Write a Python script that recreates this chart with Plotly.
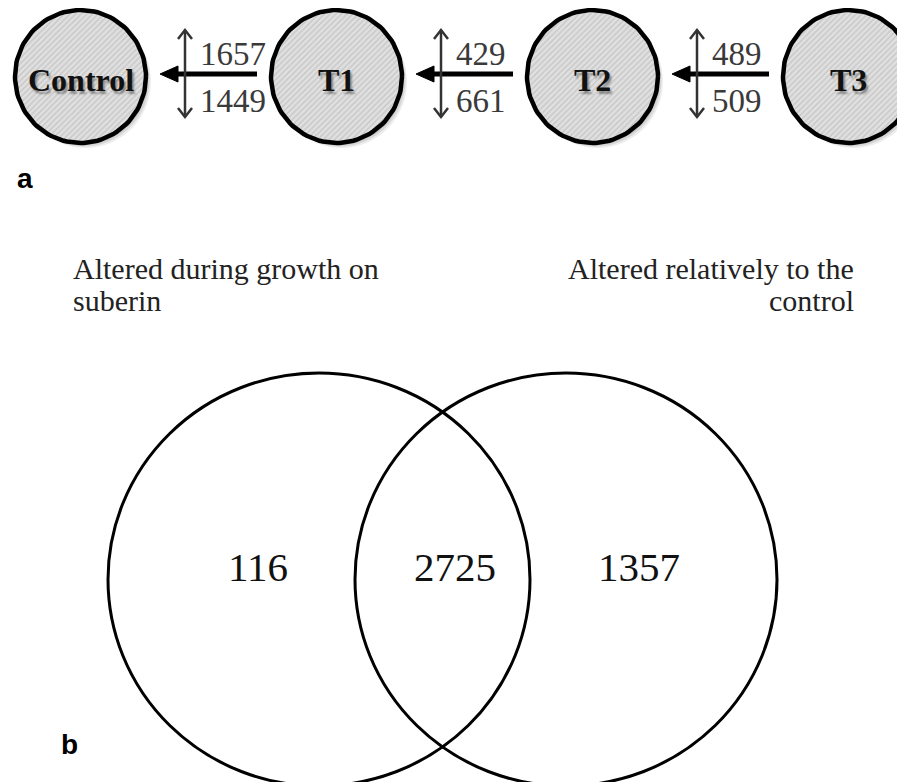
import numpy as np
import plotly.graph_objects as go

# ---------------- data ----------------
nodes = ["Control", "T1", "T2", "T3"]
up_counts = [1657, 429, 489]
down_counts = [1449, 661, 509]

venn_labels_left = ["Altered during growth on", "suberin"]
venn_labels_right = ["Altered relatively to the", "control"]
venn_counts = [116, 2725, 1357]  # left only, both, right only

panel_labels = ["a", "b"]

# ---------------- layout constants ----------------
W, H = 905, 782
PAD = 8  # default body margin of the html page
node_x0 = 80.5
node_step = 256
node_cy = 76.5
node_rx, node_ry = 65.5, 66.5
arrow_y = 74

fig = go.Figure()
shapes = []
annotations = []

serif = "Liberation Serif, Times New Roman, serif"
sans = "Liberation Sans, Arial, sans-serif"

theta = np.linspace(0, 2 * np.pi, 121)
for i, name in enumerate(nodes):
    cx = node_x0 + node_step * i
    # soft shadow
    for off, alpha in [(5, 0.07), (3.5, 0.09), (2, 0.10)]:
        shapes.append(dict(type="circle", xref="x", yref="y",
                           x0=cx - node_rx + off, x1=cx + node_rx + off,
                           y0=node_cy - node_ry + off, y1=node_cy + node_ry + off,
                           fillcolor=f"rgba(0,0,0,{alpha})", line=dict(width=0),
                           layer="below"))
    fig.add_trace(go.Scatter(
        x=cx + node_rx * np.cos(theta), y=node_cy + node_ry * np.sin(theta),
        mode="lines", fill="toself",
        fillcolor="#dcdcdc",
        fillpattern=dict(shape="/", fgcolor="#c6c6c6", bgcolor="#e0e0e0",
                         size=4, solidity=0.35, fillmode="replace"),
        line=dict(color="black", width=4.5),
        hoverinfo="skip", showlegend=False))
    annotations.append(dict(x=cx, y=node_cy + 3, xref="x", yref="y",
                            text=f"<b>{name}</b>", showarrow=False,
                            font=dict(family=serif, size=32, color="#111",
                                      shadow="2px 3px 2px rgba(0,0,0,0.35)")))

for k in range(len(up_counts)):
    left_edge = node_x0 + node_step * k + node_rx
    right_edge = node_x0 + node_step * (k + 1) - node_rx
    tip = left_edge + 14
    tail = right_edge - 14
    # horizontal thick arrow
    shapes.append(dict(type="line", xref="x", yref="y", x0=tip + 12, x1=tail,
                       y0=arrow_y, y1=arrow_y, line=dict(color="black", width=5)))
    shapes.append(dict(type="path", xref="x", yref="y",
                       path=f"M {tip},{arrow_y} L {tip + 18},{arrow_y - 8} L {tip + 18},{arrow_y + 8} Z",
                       fillcolor="black", line=dict(color="black", width=1)))
    # vertical double arrow
    vx = tip + 25
    y_top, y_bot = 30, 117
    shapes.append(dict(type="line", xref="x", yref="y", x0=vx, x1=vx, y0=y_top, y1=y_bot,
                       line=dict(color="#333", width=2.5)))
    shapes.append(dict(type="path", xref="x", yref="y",
                       path=f"M {vx - 7},{y_top + 9} L {vx},{y_top} L {vx + 7},{y_top + 9}",
                       line=dict(color="#333", width=2.5)))
    shapes.append(dict(type="path", xref="x", yref="y",
                       path=f"M {vx - 7},{y_bot - 9} L {vx},{y_bot} L {vx + 7},{y_bot - 9}",
                       line=dict(color="#333", width=2.5)))
    annotations.append(dict(x=vx + 13, y=54, xref="x", yref="y", text=str(up_counts[k]),
                            showarrow=False, xanchor="left",
                            font=dict(family=serif, size=33, color="#3a3a3a")))
    annotations.append(dict(x=vx + 13, y=101, xref="x", yref="y", text=str(down_counts[k]),
                            showarrow=False, xanchor="left",
                            font=dict(family=serif, size=33, color="#3a3a3a")))

# panel labels
annotations.append(dict(x=15, y=178, xref="x", yref="y", text=f"<b>{panel_labels[0]}</b>",
                        showarrow=False, xanchor="left",
                        font=dict(family=sans, size=28, color="black")))
annotations.append(dict(x=59, y=744, xref="x", yref="y", text=f"<b>{panel_labels[1]}</b>",
                        showarrow=False, xanchor="left",
                        font=dict(family=sans, size=28, color="black")))

# Venn circles
venn_top, venn_bot = 373, 786
shapes.append(dict(type="circle", xref="x", yref="y", x0=108, x1=530, y0=venn_top, y1=venn_bot,
                   line=dict(color="black", width=3)))
shapes.append(dict(type="circle", xref="x", yref="y", x0=355, x1=777, y0=venn_top, y1=venn_bot,
                   line=dict(color="black", width=3)))

# Venn labels
line_y = [268, 300]
for j, t in enumerate(venn_labels_left):
    annotations.append(dict(x=71, y=line_y[j], xref="x", yref="y", text=t, showarrow=False,
                            xanchor="left", font=dict(family=serif, size=30, color="#222")))
for j, t in enumerate(venn_labels_right):
    annotations.append(dict(x=856, y=line_y[j], xref="x", yref="y", text=t, showarrow=False,
                            xanchor="right", font=dict(family=serif, size=30, color="#222")))

venn_pos_x = [258, 455, 639]
for v, px in zip(venn_counts, venn_pos_x):
    annotations.append(dict(x=px, y=567, xref="x", yref="y", text=str(v), showarrow=False,
                            font=dict(family=serif, size=41, color="#111")))

fig.update_layout(
    width=W - PAD, height=H - PAD, margin=dict(l=0, r=0, t=0, b=0),
    paper_bgcolor="white", plot_bgcolor="white",
    xaxis=dict(range=[PAD, W], visible=False, fixedrange=True),
    yaxis=dict(range=[H, PAD], visible=False, fixedrange=True),
    shapes=shapes, annotations=annotations, showlegend=False,
)

fig.write_html("out.html", config=dict(displayModeBar=False))
